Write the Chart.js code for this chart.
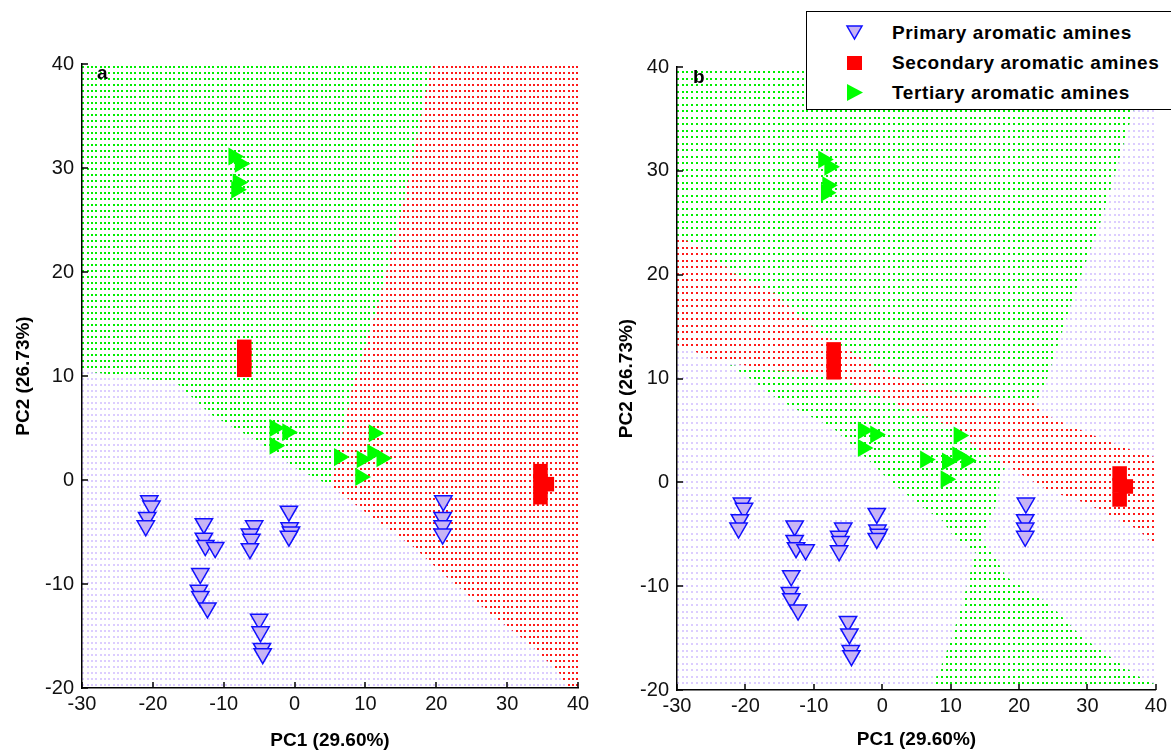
<!DOCTYPE html>
<html>
<head>
<meta charset="utf-8">
<script src="https://cdn.jsdelivr.net/npm/chart.js@4/dist/chart.umd.min.js"></script>
<style>
html,body{margin:0;padding:0;background:#fff;width:1171px;height:753px;overflow:hidden;position:relative;font-family:"Liberation Sans",Arial,sans-serif;}
#ca{position:absolute;left:0;top:0;}
#cb{position:absolute;left:600px;top:0;}
.plab{position:absolute;font:bold 19px "Liberation Sans",Arial,sans-serif;line-height:1;color:#000;}
#legend{position:absolute;left:806px;top:11px;width:366px;height:99px;border:1.5px solid #000;background:#fff;box-sizing:border-box;}
.lrow{position:absolute;left:0;height:24px;width:360px;}
.lrow svg{position:absolute;left:38px;top:2px;}
.lrow span{position:absolute;left:85px;top:0;font:bold 19px "Liberation Sans",Arial,sans-serif;letter-spacing:0.6px;line-height:24px;color:#000;white-space:nowrap;}
</style>
</head>
<body>
<canvas id="ca" width="600" height="753"></canvas>
<canvas id="cb" width="571" height="753"></canvas>
<div class="plab" style="left:97px;top:63px;">a</div>
<div class="plab" style="left:693px;top:67px;">b</div>
<div id="legend">
  <div class="lrow" style="top:9px;">
    <svg width="20" height="20"><polygon points="2,3 17,3 9.5,16" fill="#c8b4f4" stroke="#1010ff" stroke-width="1.5"/></svg>
    <span>Primary aromatic amines</span>
  </div>
  <div class="lrow" style="top:39px;">
    <svg width="20" height="20"><rect x="2" y="3" width="15" height="14" fill="#ff0000"/></svg>
    <span>Secondary aromatic amines</span>
  </div>
  <div class="lrow" style="top:69px;">
    <svg width="20" height="20"><polygon points="2,1 2,18 18,9.5" fill="#00ff00"/></svg>
    <span>Tertiary aromatic amines</span>
  </div>
</div>
<script>
// ---- axis ticks ----
const xTicks = [-30, -20, -10, 0, 10, 20, 30, 40];
const yTicks = [-20, -10, 0, 10, 20, 30, 40];

// ---- sample scores (PC1, PC2) ----
const primaryX = [-20.5, -20.2, -20.8, -21.0, -12.8, -12.8, -12.6, -11.2, -13.3, -13.5, -13.3, -12.3,
                  -5.7, -6.3, -6.1, -6.3, -0.8, -0.7, -0.5, -0.8, -5.0, -4.8, -4.6, -4.5, 21.0, 20.9, 20.9, 20.9];
const primaryY = [-2.0, -2.5, -3.6, -4.4, -4.2, -5.6, -6.3, -6.5, -9.0, -10.6, -11.2, -12.3,
                  -4.4, -5.2, -5.7, -6.6, -3.0, -4.6, -5.0, -5.4, -13.4, -14.6, -16.2, -16.7, -2.0, -3.6, -4.4, -5.2];
const secondaryX = [-7.1, -7.1, -7.1, 34.7, 34.7, 35.6, 34.7];
const secondaryY = [12.8, 11.7, 10.6, 0.85, -0.3, -0.4, -1.65];
const tertiaryX = [-8.6, -7.7, -8.0, -8.2, -2.8, -1.0, -2.8, 6.3, 9.5, 11.2, 11.0, 12.3, 9.3];
const tertiaryY = [31.1, 30.4, 28.6, 27.9, 5.0, 4.6, 3.3, 2.2, 2.0, 4.5, 2.6, 2.1, 0.3];

// ---- decision regions, panel a (PC1, PC2 vertices) ----
const regionAGreen = [[-30,40],[19.3,40],[15.5,27],[11.8,17],[8.0,8.5],[5.2,-0.6],[0,1.2],[-4.7,3.5],[-11.8,6.3],[-16.6,9.3],[-30,10.5]];
const regionARed = [[19.3,40],[40,40],[40,-20],[38.5,-20],[37.4,-18.6],[33.6,-16.0],[27.5,-12.8],[21.9,-9.6],[16.7,-6.4],[10.2,-3.2],[5.2,-0.6],[8.0,8.5],[11.8,17],[15.5,27]];

// ---- decision regions, panel b ----
const regionBGreenTop = [[-30,40],[38.5,40],[36.7,35.8],[32.3,25.8],[27.9,17.8],[24,9.8],[22.4,7.6],[13.2,8.4],[8.8,9.0],[4.9,9.7],[2.5,10.1],[-1.9,11.5],[-4.8,12.7],[-9.2,14.5],[-12.5,16.3],[-15.7,18.2],[-21.5,20.1],[-25.7,22.3],[-30,23.8]];
const regionBRed = [[-30,23.8],[-25.7,22.3],[-21.5,20.1],[-15.7,18.2],[-12.5,16.3],[-9.2,14.5],[-4.8,12.7],[-1.9,11.5],[2.5,10.1],[4.9,9.7],[8.8,9.0],[13.2,8.4],[22.4,7.6],[23.4,6.6],[27.7,5.4],[31.7,4.3],[35.6,3.3],[40,2.4],[40,-6.2],[37.5,-4.6],[33.6,-3.3],[29.7,-2.0],[24.4,-0.8],[21,0.5],[18.1,1.7],[14.2,3.0],[12.2,4.2],[9.8,5.4],[5.4,6.6],[-0.9,8.4],[-3.3,9.0],[-5.3,9.8],[-8.1,10.5],[-16.4,10.8],[-21.1,11.4],[-24.8,11.8],[-27.7,12.7],[-30,13.2]];
const regionBGreenMid = [[-22.3,11.3],[-16.4,10.8],[-8.1,10.5],[-5.3,9.8],[-3.3,9.0],[-0.9,8.4],[5.4,6.6],[9.8,5.4],[12.2,4.2],[14.2,3.0],[18.1,1.7],[17.1,-0.1],[16.6,-2.3],[15.2,-4.3],[14.6,-5.6],[16.1,-6.8],[18.1,-9.1],[24.4,-11.7],[29.2,-14.9],[34.6,-17.4],[37.5,-18.7],[40,-19.5],[40,-20],[7.8,-20],[7.9,-18.7],[8.8,-17.4],[10.2,-14.9],[11.7,-11.7],[12.7,-9.1],[13.7,-6.8],[11.3,-5.6],[10.2,-5.0],[8.8,-3.7],[5.9,-2.4],[1.0,0.2],[-1.4,1.8],[-7.3,5.3],[-13.1,7.2],[-16.4,8.5],[-18.9,9.8]];

const FONT = '"Liberation Sans", Arial, sans-serif';

function pts(xs, ys) { return xs.map((x, i) => ({x: x, y: ys[i]})); }
function poly(p) { return p.map(([x, y]) => ({x: x, y: y})); }
function fullArea() {
  const x0 = xTicks[0], x1 = xTicks[xTicks.length - 1], y0 = yTicks[0], y1 = yTicks[yTicks.length - 1];
  return [[x0, y0], [x1, y0], [x1, y1], [x0, y1]];
}

function makePattern(ctx, color, w, h, xs, ys, size) {
  const c = document.createElement('canvas');
  c.width = w; c.height = h;
  const g = c.getContext('2d');
  g.fillStyle = '#ffffff'; g.fillRect(0, 0, w, h);
  g.fillStyle = color;
  xs.forEach(x => ys.forEach(y => g.fillRect(x, y, size, size)));
  return ctx.createPattern(c, 'repeat');
}

function regionDS(label, p, pattern, order) {
  return {
    type: 'line', label: label, data: poly(p), fill: 'shape',
    backgroundColor: pattern, borderColor: 'rgba(0,0,0,0)', borderWidth: 0,
    pointRadius: 0, pointHoverRadius: 0, tension: 0, order: order
  };
}

function markerSets() {
  return [
    {type: 'scatter', label: 'Primary aromatic amines', data: pts(primaryX, primaryY),
     pointStyle: 'triangle', pointRotation: 180, pointRadius: 10, pointHoverRadius: 10,
     pointBackgroundColor: '#c8b4f4', pointBorderColor: '#1010ff', pointBorderWidth: 1.5, order: 0},
    {type: 'scatter', label: 'Secondary aromatic amines', data: pts(secondaryX, secondaryY),
     pointStyle: 'rect', pointRadius: 10.3, pointHoverRadius: 10.3,
     pointBackgroundColor: '#ff0000', pointBorderColor: '#ff0000', pointBorderWidth: 0, order: 1},
    {type: 'scatter', label: 'Tertiary aromatic amines', data: pts(tertiaryX, tertiaryY),
     pointStyle: 'triangle', pointRotation: 90, pointRadius: 10.4, pointHoverRadius: 10.4,
     pointBackgroundColor: '#00ff00', pointBorderColor: '#00ff00', pointBorderWidth: 0, order: 2}
  ];
}

const inwardTicks = {
  id: 'inwardTicks',
  afterDraw(chart) {
    const {ctx, chartArea: a, scales: {x, y}} = chart;
    ctx.save();
    ctx.strokeStyle = '#000';
    ctx.lineWidth = 1.5;
    x.ticks.forEach(t => {
      const px = Math.round(x.getPixelForValue(t.value));
      ctx.beginPath(); ctx.moveTo(px, a.bottom); ctx.lineTo(px, a.bottom - 6); ctx.stroke();
    });
    y.ticks.forEach(t => {
      const py = Math.round(y.getPixelForValue(t.value));
      ctx.beginPath(); ctx.moveTo(a.left, py); ctx.lineTo(a.left + 6, py); ctx.stroke();
    });
    ctx.restore();
  }
};

function buildChart(id, datasets, cfg) {
  const axisBase = {
    type: 'linear',
    grid: {display: false, drawTicks: false},
    border: {display: true, color: '#000', width: 1.5, dash: [3, 2], z: 1}
  };
  return new Chart(document.getElementById(id), {
    type: 'scatter',
    data: {datasets: datasets},
    options: {
      responsive: false, animation: false, events: [], devicePixelRatio: 1,
      layout: {padding: {left: 0, top: cfg.top, right: cfg.right, bottom: 0}},
      plugins: {legend: {display: false}, tooltip: {enabled: false}, filler: {propagate: false}},
      scales: {
        x: Object.assign({}, axisBase, {
          min: xTicks[0], max: xTicks[xTicks.length - 1],
          afterBuildTicks: s => { s.ticks = xTicks.map(v => ({value: v})); },
          afterFit: s => { s.height = cfg.xh; },
          ticks: {padding: 4, color: '#111', autoSkip: false, maxRotation: 0, font: {family: FONT, size: 20}},
          title: {display: true, text: 'PC1 (29.60%)', color: '#000', padding: {top: 0, bottom: cfg.xtb},
                  font: {family: FONT, size: 19, weight: 'bold'}}
        }),
        y: Object.assign({}, axisBase, {
          min: yTicks[0], max: yTicks[yTicks.length - 1],
          afterBuildTicks: s => { s.ticks = yTicks.map(v => ({value: v})); },
          afterFit: s => { s.width = cfg.yw; },
          ticks: {padding: 8, color: '#111', autoSkip: false, font: {family: FONT, size: 20}},
          title: {display: true, text: 'PC2 (26.73%)', color: '#000', padding: {top: cfg.ytp, bottom: 0},
                  font: {family: FONT, size: 19, weight: 'bold'}}
        })
      }
    },
    plugins: [inwardTicks]
  });
}

// ---- panel a ----
const ctxA = document.getElementById('ca').getContext('2d');
const patA = {
  green: makePattern(ctxA, '#00ee00', 13, 6, [0, 4, 9], [0], 2),
  red: makePattern(ctxA, '#ff1a1a', 13, 6, [0, 4, 9], [0], 2),
  purple: makePattern(ctxA, '#dccdff', 13, 6, [0, 4, 9], [0], 2)
};
buildChart('ca', markerSets().concat([
  regionDS('regionGreen', regionAGreen, patA.green, 5),
  regionDS('regionRed', regionARed, patA.red, 5),
  regionDS('regionPurple', fullArea(), patA.purple, 10)
]), {top: 64, right: 22, xh: 65, yw: 82, xtb: 1, ytp: 12});

// ---- panel b ----
const ctxB = document.getElementById('cb').getContext('2d');
const patB = {
  green: makePattern(ctxB, '#00ee00', 24, 13, [0, 5, 10, 14, 19], [0, 6], 2),
  red: makePattern(ctxB, '#ff1a1a', 24, 13, [0, 5, 10, 14, 19], [0, 6], 2),
  purple: makePattern(ctxB, '#dccdff', 24, 13, [0, 5, 10, 14, 19], [0, 6], 2)
};
buildChart('cb', markerSets().concat([
  regionDS('regionGreenTop', regionBGreenTop, patB.green, 5),
  regionDS('regionGreenMid', regionBGreenMid, patB.green, 5),
  regionDS('regionRed', regionBRed, patB.red, 5),
  regionDS('regionPurple', fullArea(), patB.purple, 10)
]), {top: 67, right: 14, xh: 63, yw: 77, xtb: 2, ytp: 15});
</script>
</body>
</html>
